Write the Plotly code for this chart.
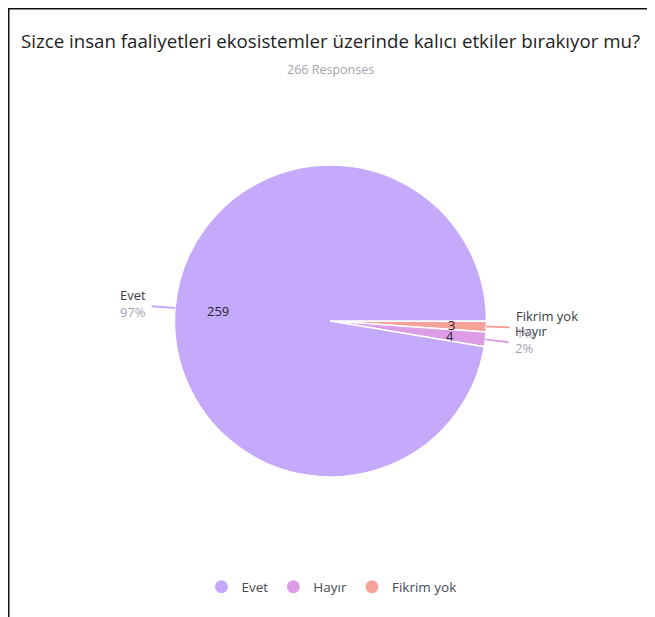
import math
import plotly.graph_objects as go

# ---- data ----
labels = ["Evet", "Hayır", "Fikrim yok"]
values = [259, 4, 3]
colors = ["#c5a9fa", "#dc9de6", "#f6a39b"]
title_text = "Sizce insan faaliyetleri ekosistemler üzerinde kalıcı etkiler bırakıyor mu?"
subtitle_text = "266 Responses"

OFF = 8  # page body margin
W, H = 655 - OFF, 617 - OFF
FONT = "Open Sans"
# pie placement in page pixels
PX0, PX1, PY0, PY1 = 174, 487, 165, 477
cx, cy = (PX0 + PX1) / 2, (PY0 + PY1) / 2
R = min(PX1 - PX0, PY1 - PY0) / 2


def px(x):
    return (x - OFF) / W


def py(y):
    return 1 - (y - OFF) / H


fig = go.Figure()
# counterclockwise from 3 o'clock in data order == clockwise from 3 o'clock in reversed order
fig.add_trace(go.Pie(
    labels=labels[::-1], values=values[::-1], sort=False, direction="clockwise",
    rotation=90, textinfo="none", hoverinfo="label+value+percent",
    marker=dict(colors=colors[::-1], line=dict(color="white", width=1.5)),
    domain=dict(x=[px(PX0), px(PX1)], y=[py(PY1), py(PY0)]),
    showlegend=False,
))

# legend entries (circle symbols)
for lab, col in zip(labels, colors):
    fig.add_trace(go.Scatter(x=[None], y=[None], mode="markers", name=lab,
                             marker=dict(color=col, size=13, symbol="circle")))

total = sum(values)
annotations = []
shapes = []
start = 0.0
for lab, val, col in zip(labels, values, colors):
    frac = val / total
    mid = (start + frac / 2) * 2 * math.pi  # counterclockwise from 3 o'clock
    start += frac
    ca, sa = math.cos(mid), math.sin(mid)
    # value label inside
    rv = 0.81 * R
    annotations.append(dict(x=px(cx + rv * ca), y=py(cy - rv * sa), xref="paper", yref="paper",
                            text=str(val), showarrow=False,
                            font=dict(size=13, color="#2a2640", family=FONT)))
    # leader line
    x0, y0 = cx + R * ca, cy - R * sa
    x1, y1 = cx + 1.15 * R * ca, cy - 1.15 * R * sa
    shapes.append(dict(type="line", xref="paper", yref="paper",
                       x0=px(x0), y0=py(y0), x1=px(x1), y1=py(y1),
                       line=dict(color=col, width=2)))
    pct = round(frac * 100)
    right = ca >= 0
    annotations.append(dict(
        x=px(x1 + (4 if right else -4)), y=py(y1 - 3), xref="paper", yref="paper",
        text=f"{lab}<br><span style='color:#a3a3b3'>{pct}%</span>",
        showarrow=False, xanchor="left" if right else "right", yanchor="middle",
        align="left", font=dict(size=13, color="#3a3a44", family=FONT)))

annotations.append(dict(x=px(330), y=py(40), xref="paper", yref="paper", text=title_text,
                        showarrow=False, xanchor="center", yanchor="middle",
                        font=dict(size=18.7, color="#1e1e22", family=FONT)))
annotations.append(dict(x=px(330), y=py(70), xref="paper", yref="paper", text=subtitle_text,
                        showarrow=False, xanchor="center", yanchor="middle",
                        font=dict(size=12.5, color="#a3a3ad", family=FONT)))

# frame lines
shapes.append(dict(type="line", xref="paper", yref="paper", x0=0, y0=1, x1=1, y1=1,
                   line=dict(color="#111", width=3)))
shapes.append(dict(type="line", xref="paper", yref="paper", x0=0, y0=1, x1=0, y1=0,
                   line=dict(color="#111", width=3)))

fig.update_layout(
    width=W, height=H, margin=dict(l=0, r=0, t=0, b=0),
    paper_bgcolor="white", plot_bgcolor="white",
    xaxis=dict(visible=False), yaxis=dict(visible=False),
    annotations=annotations, shapes=shapes,
    legend=dict(orientation="h", x=0.5, xanchor="center", y=py(587), yanchor="middle",
                font=dict(size=13.5, color="#4a4a55", family=FONT), itemwidth=30),
)
fig.write_html("out.html")
